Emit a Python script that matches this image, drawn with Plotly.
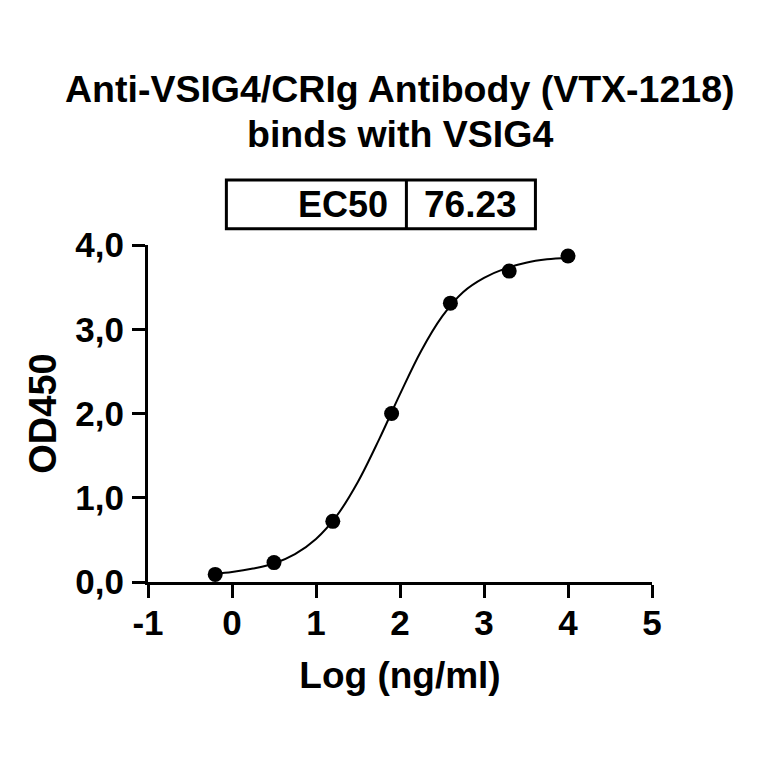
import plotly.graph_objects as go

# Data
log_conc = [-0.2, 0.5, 1.2, 1.9, 2.6, 3.3, 4.0]
od450 = [0.09, 0.23, 0.72, 2.00, 3.31, 3.69, 3.87]

# Fitted curve
curve_x = [-0.2, 0.0, 0.25, 0.5, 0.75, 1.0, 1.25, 1.5, 1.75, 2.0, 2.25, 2.5, 2.75, 3.0, 3.25, 3.5, 3.75, 4.0]
curve_y = [0.10, 0.12, 0.16, 0.22, 0.33, 0.51, 0.79, 1.19, 1.69, 2.23, 2.74, 3.15, 3.44, 3.61, 3.72, 3.79, 3.83, 3.85]

x_tickvals = [-1, 0, 1, 2, 3, 4, 5]
x_ticktext = ["-1", "0", "1", "2", "3", "4", "5"]
y_tickvals = [0, 1, 2, 3, 4]
y_ticktext = ["0,0", "1,0", "2,0", "3,0", "4,0"]

title_lines = ["Anti-VSIG4/CRIg Antibody (VTX-1218)", "binds with VSIG4"]
table_label = "EC50"
table_value = "76.23"

FONT = "Liberation Sans, Arial, sans-serif"

fig = go.Figure()
fig.add_trace(go.Scatter(x=curve_x, y=curve_y, mode="lines",
                         line=dict(color="black", width=2, shape="spline", smoothing=1.0),
                         hoverinfo="skip", showlegend=False))
fig.add_trace(go.Scatter(x=log_conc, y=od450, mode="markers",
                         marker=dict(color="black", size=15),
                         cliponaxis=False, showlegend=False))

axis_common = dict(showline=True, linecolor="black", linewidth=3,
                   ticks="outside", ticklen=13, tickwidth=3, tickcolor="black",
                   showgrid=False, zeroline=False, automargin=False,
                   tickfont=dict(family=FONT, size=35, color="black"))

fig.update_xaxes(range=[-1, 5], tickvals=x_tickvals,
                 ticktext=["<b>%s</b>" % t for t in x_ticktext],
                 ticklabelstandoff=-5,
                 title=dict(text="<b>Log (ng/ml)</b>", font=dict(family=FONT, size=37, color="black"), standoff=22),
                 **axis_common)
fig.update_yaxes(range=[0, 4], tickvals=y_tickvals,
                 ticktext=["<b>%s</b>" % t for t in y_ticktext],
                 ticklabelstandoff=1,
                 title=dict(text="<b>OD450</b>", font=dict(family=FONT, size=38, color="black"), standoff=8),
                 **axis_common)

# Table box
bx0, bx1, bdiv, by0, by1 = 0.1555, 0.7687, 0.5127, 1.0485, 1.193
fig.add_shape(type="rect", xref="paper", yref="paper", x0=bx0, x1=bx1, y0=by0, y1=by1,
              line=dict(color="black", width=3))
fig.add_shape(type="line", xref="paper", yref="paper", x0=bdiv, x1=bdiv, y0=by0, y1=by1,
              line=dict(color="black", width=3))
fig.add_annotation(xref="paper", yref="paper", x=bdiv - 0.032, y=(by0 + by1) / 2,
                   xanchor="right", yanchor="middle", showarrow=False,
                   text="<b>%s</b>" % table_label, font=dict(family=FONT, size=36, color="black"))
fig.add_annotation(xref="paper", yref="paper", x=(bdiv + bx1) / 2, y=(by0 + by1) / 2,
                   xanchor="center", yanchor="middle", showarrow=False,
                   text="<b>%s</b>" % table_value, font=dict(family=FONT, size=37, color="black"))

# Title lines
fig.add_annotation(xref="paper", yref="paper", x=0.5, y=1.464, xanchor="center", yanchor="middle",
                   showarrow=False, text="<b>%s</b>" % title_lines[0],
                   font=dict(family=FONT, size=37.5, color="black"))
fig.add_annotation(xref="paper", yref="paper", x=0.5, y=1.33, xanchor="center", yanchor="middle",
                   showarrow=False, text="<b>%s</b>" % title_lines[1],
                   font=dict(family=FONT, size=37.5, color="black"))

# The page adds an 8px body margin, so margins are reduced by 8px on left/top
fig.update_layout(width=764, height=764, plot_bgcolor="white", paper_bgcolor="white",
                  margin=dict(l=140, r=119.5, t=237, b=190.3), showlegend=False)

fig.write_html("out.html")
